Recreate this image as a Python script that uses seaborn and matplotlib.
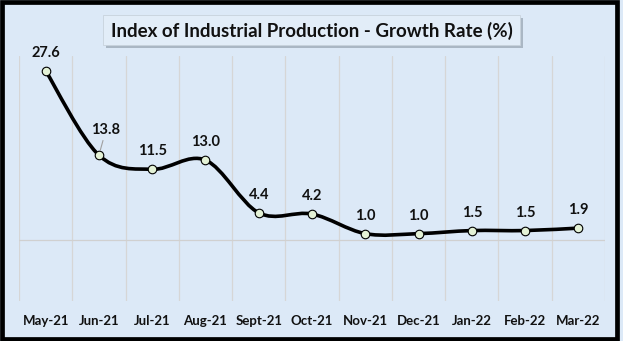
import numpy as np
import pandas as pd
import matplotlib
matplotlib.use("Agg")
import matplotlib.pyplot as plt
import seaborn as sns
from matplotlib.path import Path
from matplotlib.patches import PathPatch, Rectangle

months = ["May-21", "Jun-21", "Jul-21", "Aug-21", "Sept-21", "Oct-21",
          "Nov-21", "Dec-21", "Jan-22", "Feb-22", "Mar-22"]
growth = [27.6, 13.8, 11.5, 13.0, 4.4, 4.2, 1.0, 1.0, 1.5, 1.5, 1.9]
title = "Index of Industrial Production - Growth Rate (%)"

BG = "#dce9f7"
sns.set_theme(style="white")
plt.rcParams["font.family"] = ["Lato", "DejaVu Sans"]

df = pd.DataFrame({"month": months, "growth": growth})
df["pos"] = np.arange(len(df))

fig = plt.figure(figsize=(6.23, 3.41), dpi=100)
fig.patch.set_facecolor(BG)
ax = fig.add_axes([19/623, 1-301/341, (605-19)/623, (301-56)/341])
ax.set_facecolor(BG)

# smooth (Excel-like) curve through the data points using Bezier segments
x = df["pos"].to_numpy(float)
y = df["growth"].to_numpy(float)
verts = [(x[0], y[0])]
codes = [Path.MOVETO]
n = len(x)
for i in range(n - 1):
    p0 = np.array([x[max(i-1, 0)], y[max(i-1, 0)]])
    p1 = np.array([x[i], y[i]])
    p2 = np.array([x[i+1], y[i+1]])
    p3 = np.array([x[min(i+2, n-1)], y[min(i+2, n-1)]])
    c1 = p1 + (p2 - p0) / 6.0
    c2 = p2 - (p3 - p1) / 6.0
    verts += [tuple(c1), tuple(c2), tuple(p2)]
    codes += [Path.CURVE4] * 3
ax.add_patch(PathPatch(Path(verts, codes), facecolor="none", edgecolor="black",
                       lw=2.6, capstyle="round", joinstyle="round", zorder=3))

sns.scatterplot(data=df, x="pos", y="growth", ax=ax, s=38, color="#e4f2d6",
                edgecolor="black", linewidth=0.8, zorder=4, legend=False)

ax.set_xlim(-0.5, len(months) - 0.5)
ax.set_ylim(-10, 30)
ax.set_xticks(df["pos"])
ax.set_xticklabels(months, fontsize=9.5, fontweight="bold", color="#111111")
ax.set_xticks(np.arange(-0.5, len(months)), minor=True)
ax.tick_params(axis="x", which="major", length=0, pad=10)
ax.tick_params(axis="x", which="minor", length=0)
ax.set_yticks([])
ax.grid(axis="x", which="minor", color="#d6d6d6", lw=0.9)
ax.axhline(0, color="#d0d0d0", lw=0.9, zorder=1)
for s in ax.spines.values():
    s.set_visible(False)
ax.set_xlabel("")
ax.set_ylabel("")

for i, (px, py) in enumerate(zip(x, y)):
    lab = f"{py:.1f}"
    if i == 1:
        ax.annotate(lab, (px, py), xytext=(5, 18), textcoords="offset points",
                    ha="center", va="center", fontsize=10.5, fontweight="bold",
                    color="#111111",
                    arrowprops=dict(arrowstyle="-", color="#a0a0a0", lw=0.8,
                                    shrinkA=0, shrinkB=4))
    else:
        ax.annotate(lab, (px, py), xytext=(0, 13), textcoords="offset points",
                    ha="center", va="center", fontsize=10.5, fontweight="bold",
                    color="#111111")

# title box with shadow
W, H = 623, 341
bx0, bx1, by0, by1 = 103, 520, 15, 45
fig.patches.append(Rectangle(((bx0+3)/W, 1-(by1+3)/H), (bx1-bx0)/W, (by1-by0)/H,
                             transform=fig.transFigure, facecolor="#8a96a3",
                             edgecolor="none", alpha=0.6, zorder=1))
fig.patches.append(Rectangle((bx0/W, 1-by1/H), (bx1-bx0)/W, (by1-by0)/H,
                             transform=fig.transFigure, facecolor="#e2edf8",
                             edgecolor="#c8d2dc", lw=0.6, zorder=2))
fig.text(311.5/W, 1-30.5/H, title, ha="center", va="center", fontsize=13.5,
         fontweight="bold", color="#111111", zorder=3)

# figure border
fig.patches.append(Rectangle((0.004, 0.007), 0.986, 0.986, transform=fig.transFigure,
                             facecolor="none", edgecolor="black", lw=3.4, zorder=5))

fig.savefig("out.png", dpi=100, facecolor=BG)
